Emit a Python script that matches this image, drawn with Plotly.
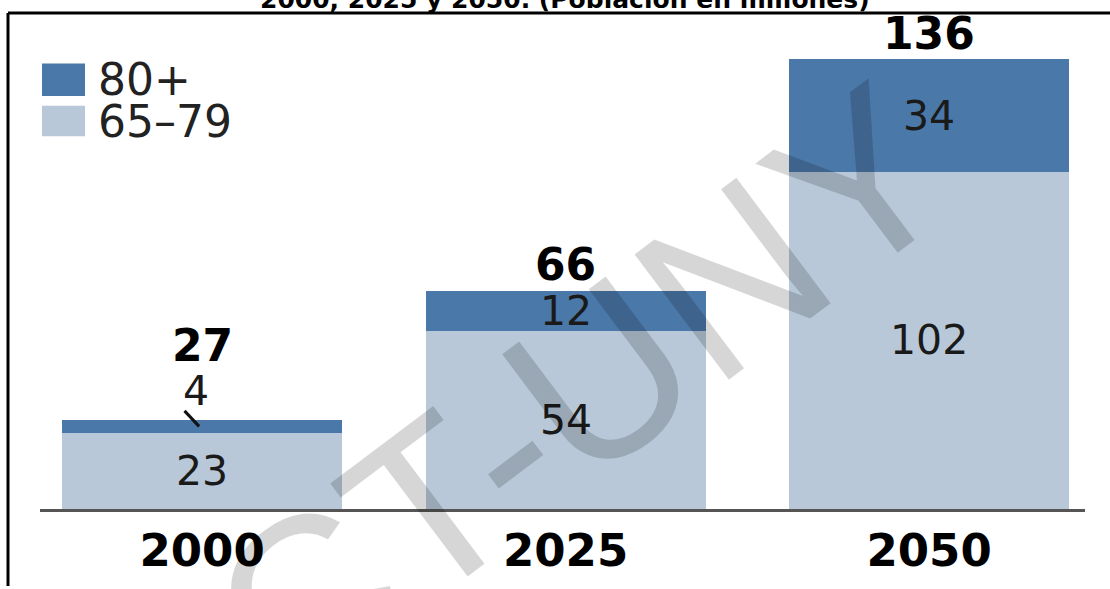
import plotly.graph_objects as go

# data (population in millions)
years = ["2000", "2025", "2050"]
series_names = ["65–79", "80+"]
age_65_79 = [23, 54, 102]
age_80_plus = [4, 12, 34]
title_text = "2000, 2025 y 2050. (Población en millones)"
watermark = "CT-UNY"

COLORS = {"65–79": "#b8c8d8", "80+": "#4a78a8"}
W, H = 1110, 589
L, R, T, B = 40, 25, 20, 73


def px(x):
    # page pixel -> paper x
    return (x - L) / (W - L - R)


def py(y):
    # page pixel -> paper y
    return (H - B - y) / (H - T - B)


totals = [a + b for a, b in zip(age_65_79, age_80_plus)]
y_max = 136 * (H - T - B) / 456  # 136 sits 456px above the baseline

fig = go.Figure()
for name, vals in zip(series_names, [age_65_79, age_80_plus]):
    fig.add_trace(go.Bar(name=name, x=years, y=vals, marker_color=COLORS[name],
                         marker_line_width=0, showlegend=False, hoverinfo="skip"))

annotations = []
seg_font = dict(family="DejaVu Sans", size=41, color="#1a1a1a")
bold_font = dict(family="DejaVu Sans", size=44, color="#000000", weight="bold")

# on a category axis annotations take the category index
for i, yr in enumerate(years):
    base = 0
    small_top = False
    for name, vals in zip(series_names, [age_65_79, age_80_plus]):
        v = vals[i]
        if v < 8:
            # thin segment: label above the bar with a short leader
            small_top = True
            annotations.append(dict(x=i, y=base + v, text=str(v), showarrow=False,
                                    yanchor="middle", yshift=29, xshift=-6, font=seg_font))
            annotations.append(dict(x=i, y=base + v / 2, text="", showarrow=True,
                                    arrowhead=0, arrowwidth=3, arrowcolor="#111",
                                    ax=-16, ay=-17, xshift=-3, standoff=0))
        else:
            annotations.append(dict(x=i, y=base + v / 2, text=str(v), showarrow=False,
                                    yanchor="middle", font=seg_font))
        base += v
    annotations.append(dict(x=i, y=totals[i], text=str(totals[i]), showarrow=False,
                            yanchor="middle", yshift=74 if small_top else 26, font=bold_font))

# custom legend, 80+ on top
legend_rows = [("80+", 64, 97), ("65–79", 107, 138)]
shapes = []
for name, y0, y1 in legend_rows:
    shapes.append(dict(type="rect", xref="paper", yref="paper", x0=px(42), x1=px(85),
                       y0=py(y1), y1=py(y0), fillcolor=COLORS[name], line_width=0))
    annotations.append(dict(xref="paper", yref="paper", x=px(96), y=py((y0 + y1) / 2),
                            text=name, showarrow=False, xanchor="left", yanchor="middle",
                            font=dict(family="DejaVu Sans", size=44, color="#222")))

# frame of the scanned page
shapes.append(dict(type="line", xref="paper", yref="paper", x0=px(8), x1=px(W + 5),
                   y0=py(13), y1=py(13), line=dict(color="#000", width=3)))
shapes.append(dict(type="line", xref="paper", yref="paper", x0=px(8), x1=px(8),
                   y0=py(13), y1=py(H + 5), line=dict(color="#000", width=3)))

# cut-off title line
annotations.append(dict(xref="paper", yref="paper", x=px(565), y=py(16), text=title_text,
                        showarrow=False, xanchor="center", yanchor="bottom",
                        font=dict(family="DejaVu Sans", size=25, color="#000", weight="bold")))

# diagonal watermark
annotations.append(dict(xref="paper", yref="paper", x=px(580), y=py(398), text=watermark,
                        showarrow=False, textangle=-37, xanchor="center", yanchor="middle",
                        font=dict(family="Liberation Sans", size=228, color="rgba(0,0,0,0.16)")))

fig.update_layout(
    width=W, height=H,
    margin=dict(l=L, r=R, t=T, b=B),
    barmode="stack",
    bargap=0.23,
    plot_bgcolor="white",
    paper_bgcolor="white",
    xaxis=dict(type="category", range=[-0.446, 2.429], showline=True, linecolor="#555",
               linewidth=3, showgrid=False, ticks="", fixedrange=True,
               tickfont=dict(family="DejaVu Sans", size=45, color="#000", weight="bold")),
    yaxis=dict(visible=False, range=[0, y_max], fixedrange=True),
    annotations=annotations,
    shapes=shapes,
)

fig.write_html("out.html", config={"displayModeBar": False},
               post_script="document.body.style.margin = '0';")
